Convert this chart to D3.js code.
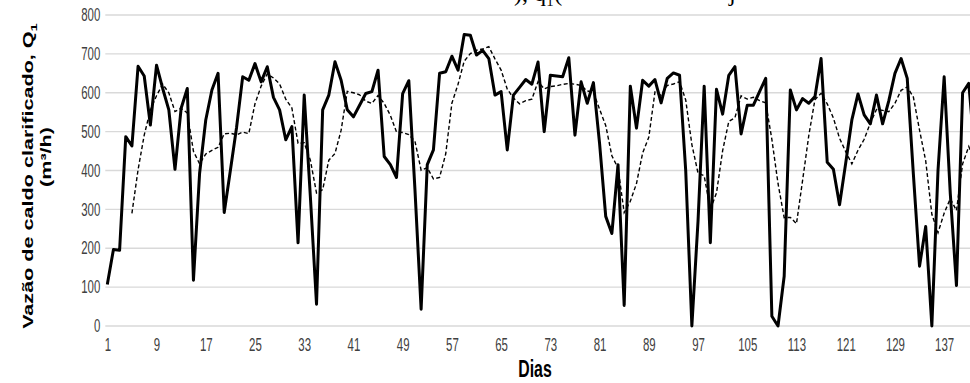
<!DOCTYPE html>
<html>
<head>
<meta charset="utf-8">
<script src="https://cdn.jsdelivr.net/npm/d3@7"></script>
<style>
  html, body { margin: 0; padding: 0; background: #fff; }
  svg { display: block; font-family: "Liberation Sans", Arial, sans-serif; }
</style>
</head>
<body>
<svg id="chart" width="970" height="383"></svg>
<script>
// Daily clarified juice flow (m³/h)
const vazao = [
  107, 197, 195, 487, 463, 668, 643, 517, 671, 611,
  556, 403, 560, 611, 118, 393, 530, 607, 650, 292,
  400, 510, 641, 632, 675, 628, 667, 588, 556, 479,
  513, 214, 594, 333, 56, 556, 594, 680, 632, 556,
  538, 568, 598, 603, 658, 436, 415, 382, 598, 631,
  350, 43, 415, 453, 650, 654, 694, 658, 750, 748,
  697, 709, 688, 594, 603, 453, 594, 614, 634, 622,
  679, 500, 645, 643, 641, 690, 491, 628, 573, 626,
  470, 282, 238, 415, 53, 617, 509, 632, 617, 634,
  574, 637, 651, 645, 400, 0, 270, 617, 214, 609,
  545, 645, 667, 494, 568, 568, 603, 637, 25, 0,
  128, 607, 556, 585, 573, 590, 688, 421, 403, 312,
  419, 530, 597, 543, 520, 594, 520, 579, 650, 688,
  637, 390, 154, 256, 0, 400, 641, 340, 104, 600,
  624, 440
];
const dias = vazao.map((_, i) => i + 1);
const xTicks = d3.range(1, 138, 8);
const yTicks = d3.range(0, 801, 100);

// Excel 5-period moving-average trendline of the series above
const PERIOD = 5;
const media = dias.slice(PERIOD - 1).map(d => ({
  d, v: d3.mean(vazao.slice(d - PERIOD, d))
}));

const svg = d3.select('#chart');
const L = 107.3, R = 970, T = 15, B = 326;
// the source image is squeezed sideways, so its lettering is tall and narrow
const SX = 0.88, SY = 1.35;

const x = d3.scaleLinear().domain([1, 141.2]).range([L, R]);
const y = d3.scaleLinear().domain([0, 800]).range([B, T]);

svg.append('defs').append('clipPath').attr('id', 'plot')
  .append('rect').attr('x', L - 2).attr('y', 0).attr('width', R - L + 2).attr('height', 383);

// gridlines
svg.append('g')
  .selectAll('line')
  .data(yTicks)
  .join('line')
  .attr('x1', L - 2).attr('x2', R)
  .attr('y1', d => y(d)).attr('y2', d => y(d))
  .attr('stroke', '#d9d9d9').attr('stroke-width', 1.3);

// y axis labels
const yAxis = svg.append('g')
  .attr('transform', `translate(${L - 7},0)`)
  .call(d3.axisLeft(y).tickValues(yTicks).tickSize(0).tickPadding(0));
yAxis.select('.domain').remove();
yAxis.selectAll('text')
  .attr('font-family', '"Liberation Sans", Arial, sans-serif')
  .attr('font-size', 13).attr('fill', '#404040')
  .attr('transform', `scale(${SX},${SY})`);

// x axis labels
const xAxis = svg.append('g')
  .attr('transform', `translate(0,${B + 12.5})`)
  .call(d3.axisBottom(x).tickValues(xTicks).tickSize(0).tickPadding(0).tickFormat(d3.format('d')));
xAxis.select('.domain').remove();
xAxis.selectAll('text')
  .attr('font-family', '"Liberation Sans", Arial, sans-serif')
  .attr('font-size', 13).attr('fill', '#404040')
  .attr('transform', `scale(${SX},${SY})`);

const plot = svg.append('g').attr('clip-path', 'url(#plot)');

// solid daily series
plot.append('path')
  .datum(vazao)
  .attr('fill', 'none')
  .attr('stroke', '#000')
  .attr('stroke-width', 3)
  .attr('stroke-linejoin', 'round')
  .attr('d', d3.line().x((v, i) => x(dias[i])).y(v => y(v)));

// dashed moving average
plot.append('path')
  .datum(media)
  .attr('fill', 'none')
  .attr('stroke', '#000')
  .attr('stroke-width', 1.4)
  .attr('stroke-dasharray', '4,2.5')
  .attr('d', d3.line().x(p => x(p.d)).y(p => y(p.v)));

// axis titles
svg.append('g')
  .attr('transform', `translate(535,377) scale(${SX},${SY})`)
  .append('text')
  .attr('text-anchor', 'middle')
  .attr('font-size', 18).attr('font-weight', 700)
  .text('Dias');

const yt = svg.append('g')
  .attr('transform', `translate(33,176) rotate(-90) scale(${SY},${SX})`)
  .append('text')
  .attr('text-anchor', 'middle')
  .attr('font-size', 16).attr('font-weight', 700);
yt.append('tspan').text('Vazão de caldo clarificado, Q');
yt.append('tspan').attr('font-size', 11).attr('dy', 4).text('1');

svg.append('g')
  .attr('transform', `translate(51,157) rotate(-90) scale(${SY},${SX})`)
  .append('text')
  .attr('text-anchor', 'middle')
  .attr('font-size', 16).attr('font-weight', 700)
  .text('(m³/h)');

// bottom of the equation line above the chart (cut off in the picture)
const eqn = svg.append('g')
  .attr('font-family', '"Liberation Serif", "Times New Roman", serif')
  .attr('font-size', 24);
eqn.append('text').attr('x', 514).attr('y', 1).text('), q₁(');
eqn.append('text').attr('x', 729).attr('y', 1).text('j');
</script>
</body>
</html>
